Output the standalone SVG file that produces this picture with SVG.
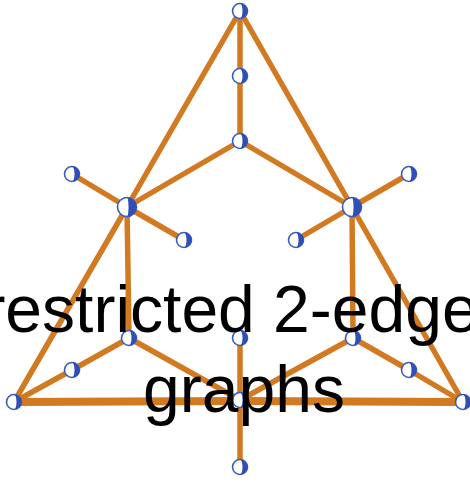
<svg xmlns="http://www.w3.org/2000/svg" width="470" height="482" viewBox="0 0 470 482">
<style>
.e{stroke:#d27a22;stroke-width:5.5;stroke-linecap:round;fill:none}
.eb{stroke:#d27a22;stroke-width:8;stroke-linecap:round;fill:none}
.nc{fill:#fff;stroke:#3a5cc0;stroke-width:1.6}
.np{fill:#2f4fb5}
.t{font-family:"Liberation Sans",Arial,sans-serif;font-size:66px;fill:#000;text-anchor:middle}
</style>
<defs>
<g id="leaf"><circle class="nc" r="7.5"/><path class="np" d="M0,-7.5 A7.5,7.5 0 0 1 0,7.5 A2.5,7.5 0 0 0 0,-7.5Z"/></g>
<g id="hub"><circle class="nc" r="9.5"/><path class="np" d="M0,-9.5 A9.5,9.5 0 0 1 0,9.5 A1.5,9.5 0 0 0 0,-9.5Z"/></g>
</defs>
<g id="connectors">
<line class="e" x1="240" y1="11" x2="127" y2="207"/>
<line class="e" x1="127" y1="207" x2="14" y2="402"/>
<line class="e" x1="240" y1="11" x2="352" y2="207"/>
<line class="e" x1="352" y1="207" x2="463" y2="402"/>
<line class="e" x1="240" y1="11" x2="240" y2="76"/>
<line class="e" x1="240" y1="76" x2="240" y2="141"/>
<line class="e" x1="240" y1="141" x2="127" y2="207"/>
<line class="e" x1="240" y1="141" x2="352" y2="207"/>
<line class="e" x1="127" y1="207" x2="72" y2="174"/>
<line class="e" x1="127" y1="207" x2="184" y2="240"/>
<line class="e" x1="352" y1="207" x2="409" y2="174"/>
<line class="e" x1="352" y1="207" x2="296" y2="240"/>
<line class="e" x1="127" y1="207" x2="129" y2="338"/>
<line class="e" x1="352" y1="207" x2="353" y2="338"/>
<line class="e" x1="14" y1="402" x2="72" y2="370"/>
<line class="e" x1="72" y1="370" x2="129" y2="338"/>
<line class="e" x1="129" y1="338" x2="240" y2="400"/>
<line class="e" x1="353" y1="338" x2="240" y2="400"/>
<line class="e" x1="353" y1="338" x2="409" y2="370"/>
<line class="e" x1="409" y1="370" x2="463" y2="402"/>
<line class="eb" x1="14" y1="402" x2="240" y2="401"/>
<line class="eb" x1="240" y1="401" x2="463" y2="402"/>
<line class="e" x1="240" y1="338" x2="240" y2="400"/>
<line class="e" x1="240" y1="400" x2="240" y2="467"/>
</g>
<g id="nodes">
<g id="n1"><use href="#leaf" x="240" y="11"/></g>
<g id="n2"><use href="#leaf" x="240" y="76"/></g>
<g id="n3"><use href="#leaf" x="240" y="141"/></g>
<g id="n4"><use href="#hub" x="127" y="207"/></g>
<g id="n5"><use href="#hub" x="352" y="207"/></g>
<g id="n6"><use href="#leaf" x="72" y="174"/></g>
<g id="n7"><use href="#leaf" x="184" y="240"/></g>
<g id="n8"><use href="#leaf" x="409" y="174"/></g>
<g id="n9"><use href="#leaf" x="296" y="240"/></g>
<g id="n10"><use href="#leaf" x="129" y="338"/></g>
<g id="n11"><use href="#leaf" x="353" y="338"/></g>
<g id="n12"><use href="#leaf" x="72" y="370"/></g>
<g id="n13"><use href="#leaf" x="409" y="370"/></g>
<g id="n14"><use href="#leaf" x="14" y="402"/></g>
<g id="n15"><use href="#leaf" x="463" y="402"/></g>
<g id="n16"><use href="#leaf" x="240" y="338"/></g>
<g id="n17"><use href="#leaf" x="240" y="400"/></g>
<g id="n18"><use href="#leaf" x="240" y="467"/></g>
</g>
<g id="label">
<text class="t" x="231" y="332">restricted 2-edge</text>
<text class="t" x="244" y="412">graphs</text>
</g>
</svg>
